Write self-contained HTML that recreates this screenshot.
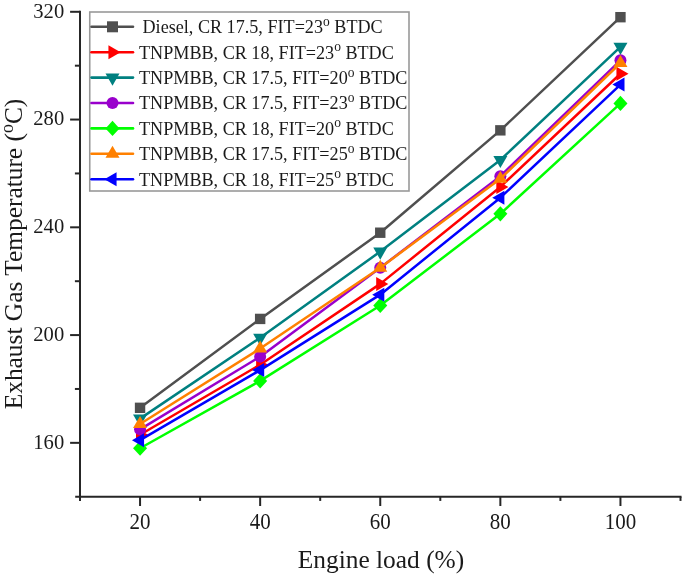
<!DOCTYPE html>
<html><head><meta charset="utf-8"><title>Exhaust Gas Temperature vs Engine load</title>
<style>html,body{margin:0;padding:0;background:#fff;}svg{display:block;}
text{font-family:"Liberation Serif","Times New Roman",serif;fill:#1a1a1a;}</style></head>
<body>
<svg width="685" height="577" viewBox="0 0 685 577">
<rect width="685" height="577" fill="#fff"/>
<g stroke="#262626" stroke-width="2" stroke-linecap="butt" fill="none"><line x1="80.0" y1="10.80" x2="80.0" y2="500.92"/><line x1="75.2" y1="496.72" x2="681.50" y2="496.72"/><line x1="70.1" y1="442.84" x2="80.0" y2="442.84"/><line x1="70.1" y1="335.08" x2="80.0" y2="335.08"/><line x1="70.1" y1="227.32" x2="80.0" y2="227.32"/><line x1="70.1" y1="119.56" x2="80.0" y2="119.56"/><line x1="70.1" y1="11.80" x2="80.0" y2="11.80"/><line x1="74.9" y1="388.96" x2="80.0" y2="388.96"/><line x1="74.9" y1="281.20" x2="80.0" y2="281.20"/><line x1="74.9" y1="173.44" x2="80.0" y2="173.44"/><line x1="74.9" y1="65.68" x2="80.0" y2="65.68"/><line x1="140.05" y1="496.72" x2="140.05" y2="506.02"/><line x1="260.15" y1="496.72" x2="260.15" y2="506.02"/><line x1="380.25" y1="496.72" x2="380.25" y2="506.02"/><line x1="500.35" y1="496.72" x2="500.35" y2="506.02"/><line x1="620.45" y1="496.72" x2="620.45" y2="506.02"/><line x1="200.10" y1="496.72" x2="200.10" y2="500.92"/><line x1="320.20" y1="496.72" x2="320.20" y2="500.92"/><line x1="440.30" y1="496.72" x2="440.30" y2="500.92"/><line x1="560.40" y1="496.72" x2="560.40" y2="500.92"/><line x1="680.50" y1="496.72" x2="680.50" y2="500.92"/></g>
<g font-size="21"><text transform="translate(64.2,448.74) scale(0.98,1.03)" text-anchor="end">160</text><text transform="translate(64.2,340.98) scale(0.98,1.03)" text-anchor="end">200</text><text transform="translate(64.2,233.22) scale(0.98,1.03)" text-anchor="end">240</text><text transform="translate(64.2,125.46) scale(0.98,1.03)" text-anchor="end">280</text><text transform="translate(64.2,17.70) scale(0.98,1.03)" text-anchor="end">320</text><text transform="translate(140.05,529) scale(1,1.05)" text-anchor="middle">20</text><text transform="translate(260.15,529) scale(1,1.05)" text-anchor="middle">40</text><text transform="translate(380.25,529) scale(1,1.05)" text-anchor="middle">60</text><text transform="translate(500.35,529) scale(1,1.05)" text-anchor="middle">80</text><text transform="translate(620.45,529) scale(1,1.05)" text-anchor="middle">100</text></g>
<text x="381" y="568" font-size="25.4" text-anchor="middle">Engine load (%)</text>
<text transform="translate(22.2,254) rotate(-90)" font-size="25.4" text-anchor="middle">Exhaust Gas Temperature (<tspan font-size="18" dy="-9.5">o</tspan><tspan dy="9.5">C)</tspan></text>
<rect x="89.75" y="12.0" width="319.25" height="179.0" fill="#fff" stroke="#999" stroke-width="1.6"/>
<polyline points="140.05,407.82 260.15,318.92 380.25,232.71 500.35,130.34 620.45,17.19" fill="none" stroke="#4f4f4f" stroke-width="2.5" stroke-linejoin="round"/>
<rect x="134.85" y="402.62" width="10.4" height="10.4" fill="#4f4f4f"/><rect x="254.95" y="313.72" width="10.4" height="10.4" fill="#4f4f4f"/><rect x="375.05" y="227.51" width="10.4" height="10.4" fill="#4f4f4f"/><rect x="495.15" y="125.14" width="10.4" height="10.4" fill="#4f4f4f"/><rect x="615.25" y="11.99" width="10.4" height="10.4" fill="#4f4f4f"/>
<polyline points="140.05,434.76 260.15,364.71 380.25,283.89 500.35,186.91 620.45,73.76" fill="none" stroke="#ff0000" stroke-width="2.5" stroke-linejoin="round"/>
<polygon points="148.13,434.76 136.01,427.76 136.01,441.76" fill="#ff0000"/><polygon points="268.23,364.71 256.11,357.71 256.11,371.71" fill="#ff0000"/><polygon points="388.33,283.89 376.21,276.89 376.21,290.89" fill="#ff0000"/><polygon points="508.43,186.91 496.31,179.91 496.31,193.91" fill="#ff0000"/><polygon points="628.53,73.76 616.41,66.76 616.41,80.76" fill="#ff0000"/>
<polyline points="140.05,418.59 260.15,337.77 380.25,251.57 500.35,159.97 620.45,46.82" fill="none" stroke="#008080" stroke-width="2.5" stroke-linejoin="round"/>
<polygon points="140.05,426.68 147.05,414.55 133.05,414.55" fill="#008080"/><polygon points="260.15,345.86 267.15,333.73 253.15,333.73" fill="#008080"/><polygon points="380.25,259.65 387.25,247.52 373.25,247.52" fill="#008080"/><polygon points="500.35,168.05 507.35,155.93 493.35,155.93" fill="#008080"/><polygon points="620.45,54.90 627.45,42.78 613.45,42.78" fill="#008080"/>
<polyline points="140.05,429.37 260.15,356.63 380.25,267.73 500.35,176.13 620.45,60.29" fill="none" stroke="#9900cc" stroke-width="2.5" stroke-linejoin="round"/>
<circle cx="140.05" cy="429.37" r="6.0" fill="#9900cc"/><circle cx="260.15" cy="356.63" r="6.0" fill="#9900cc"/><circle cx="380.25" cy="267.73" r="6.0" fill="#9900cc"/><circle cx="500.35" cy="176.13" r="6.0" fill="#9900cc"/><circle cx="620.45" cy="60.29" r="6.0" fill="#9900cc"/>
<polyline points="140.05,448.23 260.15,380.88 380.25,305.45 500.35,213.85 620.45,103.40" fill="none" stroke="#00ff00" stroke-width="2.5" stroke-linejoin="round"/>
<polygon points="140.05,440.63 147.05,448.23 140.05,455.83 133.05,448.23" fill="#00ff00"/><polygon points="260.15,373.28 267.15,380.88 260.15,388.48 253.15,380.88" fill="#00ff00"/><polygon points="380.25,297.85 387.25,305.45 380.25,313.05 373.25,305.45" fill="#00ff00"/><polygon points="500.35,206.25 507.35,213.85 500.35,221.45 493.35,213.85" fill="#00ff00"/><polygon points="620.45,95.80 627.45,103.40 620.45,111.00 613.45,103.40" fill="#00ff00"/>
<polyline points="140.05,423.98 260.15,348.55 380.25,267.73 500.35,178.83 620.45,62.99" fill="none" stroke="#ff8000" stroke-width="2.5" stroke-linejoin="round"/>
<polygon points="140.05,415.90 147.05,428.02 133.05,428.02" fill="#ff8000"/><polygon points="260.15,340.47 267.15,352.59 253.15,352.59" fill="#ff8000"/><polygon points="380.25,259.65 387.25,271.77 373.25,271.77" fill="#ff8000"/><polygon points="500.35,170.75 507.35,182.87 493.35,182.87" fill="#ff8000"/><polygon points="620.45,54.90 627.45,67.03 613.45,67.03" fill="#ff8000"/>
<polyline points="140.05,440.15 260.15,370.10 380.25,294.67 500.35,197.69 620.45,84.54" fill="none" stroke="#0000ff" stroke-width="2.5" stroke-linejoin="round"/>
<polygon points="131.97,440.15 144.09,433.15 144.09,447.15" fill="#0000ff"/><polygon points="252.07,370.10 264.19,363.10 264.19,377.10" fill="#0000ff"/><polygon points="372.17,294.67 384.29,287.67 384.29,301.67" fill="#0000ff"/><polygon points="492.27,197.69 504.39,190.69 504.39,204.69" fill="#0000ff"/><polygon points="612.37,84.54 624.49,77.54 624.49,91.54" fill="#0000ff"/>
<line x1="91.5" y1="26.80" x2="133" y2="26.80" stroke="#4f4f4f" stroke-width="2.6" stroke-linecap="round"/><rect x="107.00" y="21.30" width="11.0" height="11.0" fill="#4f4f4f"/><text transform="translate(142.5,33.10) scale(1,1.05)" font-size="18.15">Diesel, CR 17.5, FIT=23<tspan font-size="13.5" dy="-7">o</tspan><tspan dy="7"> BTDC</tspan></text><line x1="91.5" y1="52.20" x2="133" y2="52.20" stroke="#ff0000" stroke-width="2.6" stroke-linecap="round"/><polygon points="120.58,52.20 108.46,45.20 108.46,59.20" fill="#ff0000"/><text transform="translate(139.0,58.50) scale(1,1.05)" font-size="18.15">TNPMBB, CR 18, FIT=23<tspan font-size="13.5" dy="-7">o</tspan><tspan dy="7"> BTDC</tspan></text><line x1="91.5" y1="77.60" x2="133" y2="77.60" stroke="#008080" stroke-width="2.6" stroke-linecap="round"/><polygon points="112.50,85.68 119.50,73.56 105.50,73.56" fill="#008080"/><text transform="translate(139.0,83.90) scale(1,1.05)" font-size="18.15">TNPMBB, CR 17.5, FIT=20<tspan font-size="13.5" dy="-7">o</tspan><tspan dy="7"> BTDC</tspan></text><line x1="91.5" y1="103.00" x2="133" y2="103.00" stroke="#9900cc" stroke-width="2.6" stroke-linecap="round"/><circle cx="112.50" cy="103.00" r="6.0" fill="#9900cc"/><text transform="translate(139.0,109.30) scale(1,1.05)" font-size="18.15">TNPMBB, CR 17.5, FIT=23<tspan font-size="13.5" dy="-7">o</tspan><tspan dy="7"> BTDC</tspan></text><line x1="91.5" y1="128.40" x2="133" y2="128.40" stroke="#00ff00" stroke-width="2.6" stroke-linecap="round"/><polygon points="112.50,120.80 119.50,128.40 112.50,136.00 105.50,128.40" fill="#00ff00"/><text transform="translate(139.0,134.70) scale(1,1.05)" font-size="18.15">TNPMBB, CR 18, FIT=20<tspan font-size="13.5" dy="-7">o</tspan><tspan dy="7"> BTDC</tspan></text><line x1="91.5" y1="153.80" x2="133" y2="153.80" stroke="#ff8000" stroke-width="2.6" stroke-linecap="round"/><polygon points="112.50,145.72 119.50,157.84 105.50,157.84" fill="#ff8000"/><text transform="translate(139.0,160.10) scale(1,1.05)" font-size="18.15">TNPMBB, CR 17.5, FIT=25<tspan font-size="13.5" dy="-7">o</tspan><tspan dy="7"> BTDC</tspan></text><line x1="91.5" y1="179.20" x2="133" y2="179.20" stroke="#0000ff" stroke-width="2.6" stroke-linecap="round"/><polygon points="104.42,179.20 116.54,172.20 116.54,186.20" fill="#0000ff"/><text transform="translate(139.0,185.50) scale(1,1.05)" font-size="18.15">TNPMBB, CR 18, FIT=25<tspan font-size="13.5" dy="-7">o</tspan><tspan dy="7"> BTDC</tspan></text>
</svg></body></html>
